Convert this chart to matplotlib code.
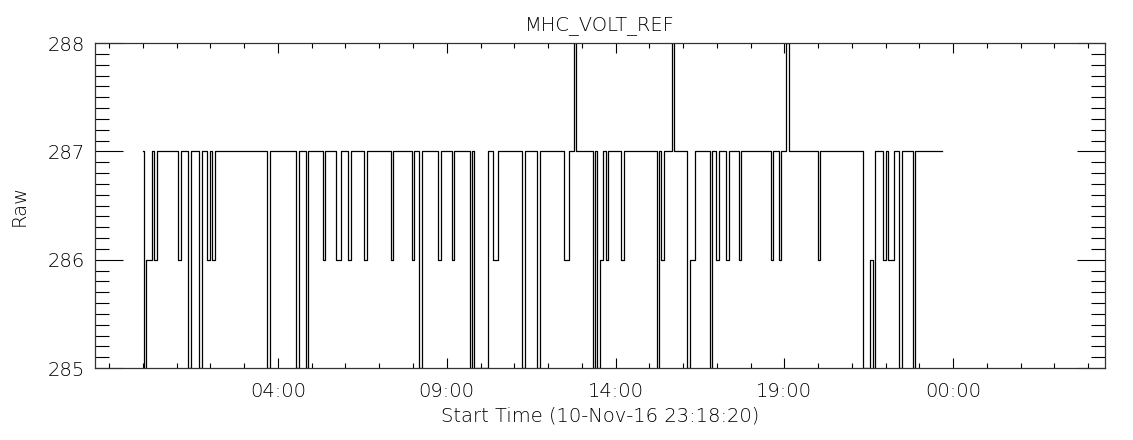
import numpy as np
import matplotlib
matplotlib.use("Agg")
import matplotlib.pyplot as plt
from matplotlib.ticker import FixedLocator, MultipleLocator, FuncFormatter

# hours since 11-Nov-16 00:00 where the raw value changes (step, held until next)
times = [0.015, 0.025, 0.094, 0.261, 0.330, 0.409, 1.049, 1.118, 1.345, 1.424,
         1.660, 1.739, 1.906, 1.985, 2.054, 2.133, 3.684, 3.753, 4.540, 4.609,
         4.835, 4.904, 5.326, 5.395, 5.711, 5.869, 6.086, 6.165, 6.560, 6.630,
         7.341, 7.420, 7.963, 8.042, 8.190, 8.259, 8.753, 8.822, 9.148, 9.217,
         9.690, 9.759, 9.818, 10.232, 10.379, 10.527, 11.236, 11.315, 11.680, 11.759,
         12.475, 12.622, 12.770, 12.839, 13.324, 13.392, 13.441, 13.540, 13.637, 13.716,
         13.784, 14.176, 14.245, 15.225, 15.284, 15.353, 15.422, 15.670, 15.729, 16.113,
         16.192, 16.340, 16.803, 16.872, 16.980, 17.059, 17.276, 17.355, 17.650, 17.729,
         18.606, 18.675, 18.833, 18.911, 19.049, 19.128, 19.985, 20.064, 21.325, 21.552,
         21.620, 21.699, 21.935, 22.014, 22.073, 22.260, 22.407, 22.486, 22.800, 22.879,
         23.685]
raw = [287, 285, 286, 287, 286, 287, 286, 287, 285, 287,
       285, 287, 286, 287, 286, 287, 285, 287, 285, 287,
       285, 287, 286, 287, 286, 287, 286, 287, 286, 287,
       286, 287, 286, 287, 285, 287, 286, 287, 286, 287,
       285, 287, 285, 287, 286, 287, 285, 287, 285, 287,
       286, 287, 288, 287, 285, 287, 285, 286, 287, 286,
       287, 286, 287, 285, 287, 286, 287, 288, 287, 285,
       286, 287, 285, 287, 286, 287, 286, 287, 286, 287,
       286, 287, 286, 287, 288, 287, 286, 287, 285, 286,
       285, 287, 286, 287, 286, 287, 285, 287, 285, 287,
       287]

major_ticks = [4, 9, 14, 19, 24]
x_range = [-1.42, 28.5]
y_range = [285, 288]

plt.rcParams["font.family"] = ["DejaVu Sans"]
plt.rcParams["font.weight"] = "light"
plt.rcParams["axes.titleweight"] = "light"
plt.rcParams["axes.labelweight"] = "light"
txt_color = "black"

fig = plt.figure(figsize=(11.33, 4.4), dpi=100)
ax = fig.add_axes([95 / 1133, 72 / 440, 1010 / 1133, 325 / 440])

ax.step(times, raw, where="post", color="black", linewidth=0.9)

ax.set_xlim(*x_range)
ax.set_ylim(*y_range)

ax.xaxis.set_major_locator(FixedLocator(major_ticks))
ax.xaxis.set_minor_locator(MultipleLocator(1))
ax.xaxis.set_major_formatter(FuncFormatter(lambda v, p: "%02d:00" % (int(round(v)) % 24)))
ax.yaxis.set_major_locator(MultipleLocator(1))
ax.yaxis.set_minor_locator(MultipleLocator(0.1))
ax.yaxis.set_major_formatter(FuncFormatter(lambda v, p: "%d" % round(v)))

ax.tick_params(axis="x", which="major", direction="in", length=7, width=0.8,
               top=True, bottom=True, labelsize=14, pad=10, colors=txt_color)
ax.tick_params(axis="x", which="minor", direction="in", length=3.5, width=0.8,
               top=True, bottom=True)
ax.tick_params(axis="y", which="major", direction="in", length=20, width=0.8,
               left=True, right=True, labelsize=14, pad=7, colors=txt_color)
ax.tick_params(axis="y", which="minor", direction="in", length=10, width=0.8,
               left=True, right=True)
for s in ax.spines.values():
    s.set_linewidth(0.9)
    s.set_color("#333333")

ax.set_title("MHC_VOLT_REF", fontsize=14, color=txt_color, pad=9, fontweight="light")
ax.set_xlabel("Start Time (10-Nov-16 23:18:20)", fontsize=14, color=txt_color,
              labelpad=4, fontweight="light")
ax.set_ylabel("Raw", fontsize=14, color=txt_color, labelpad=14, fontweight="light")

fig.savefig("out.png", dpi=100, facecolor="white")
